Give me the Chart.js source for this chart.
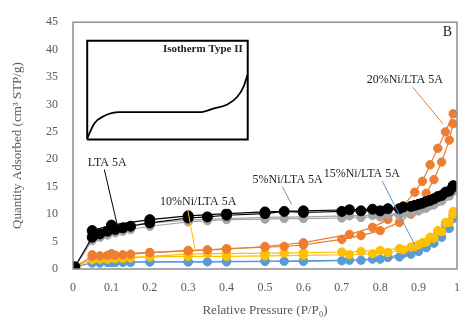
<!DOCTYPE html>
<html>
<head>
<meta charset="utf-8">
<script src="https://cdn.jsdelivr.net/npm/chart.js@4"></script>
<style>
html,body{margin:0;padding:0;background:#fff;}
#wrap{width:474px;height:323px;position:relative;}
</style>
</head>
<body>
<div id="wrap"><canvas id="c" width="474" height="323"></canvas></div>
<script>
// ---- data ----
const pressureAds = [0.005, 0.05, 0.07, 0.09, 0.11, 0.13, 0.15, 0.2, 0.3, 0.35, 0.4, 0.5, 0.55, 0.6, 0.7, 0.75, 0.8, 0.85, 0.88, 0.9, 0.92, 0.94, 0.96, 0.98, 0.99];
const pressureDes = [0.99, 0.97, 0.95, 0.93, 0.91, 0.89, 0.86, 0.82, 0.78, 0.72, 0.6, 0.5, 0.4, 0.3, 0.2, 0.1, 0.05];

const ltaAds  = [0.4, 5.8, 6.4, 6.9, 7.2, 7.5, 7.8, 8.4, 9.3, 9.5, 9.8, 10.1, 10.5, 10.3, 10.5, 10.6, 10.6, 11.0, 11.4, 11.8, 12.3, 12.8, 13.4, 14.2, 15.0];
const ltaDes  = [15.2, 14.0, 13.2, 12.5, 12.0, 11.6, 11.3, 11.0, 10.9, 10.8, 10.6, 10.4, 10.1, 9.7, 9.0, 8.0, 7.0];
const ni5Ads  = [0.4, 5.2, 5.8, 6.2, 6.6, 6.9, 7.2, 7.8, 8.6, 8.8, 9.0, 9.1, 9.2, 9.2, 9.3, 9.4, 9.5, 9.8, 10.2, 10.6, 11.1, 11.7, 12.4, 13.3, 14.2];
const ni5Des  = [14.4, 13.2, 12.3, 11.6, 11.0, 10.6, 10.2, 9.9, 9.8, 9.7, 9.5, 9.4, 9.2, 8.9, 8.4, 7.5, 6.5];
const ni10Ads = [0.4, 1.7, 1.8, 1.8, 1.9, 1.9, 2.0, 2.3, 2.7, 2.8, 2.8, 2.9, 2.9, 3.0, 3.1, 3.2, 3.4, 3.7, 4.0, 4.4, 4.9, 5.6, 6.8, 8.5, 10.0];
const ni10Des = [10.5, 8.5, 7.0, 5.8, 4.8, 4.1, 3.5, 3.0, 2.8, 2.6, 2.5, 2.4, 2.3, 2.3, 2.2, 2.1, 2.0];
const ni15Ads = [0.4, 1.1, 1.1, 1.2, 1.2, 1.2, 1.2, 1.3, 1.3, 1.3, 1.3, 1.4, 1.4, 1.4, 1.5, 1.6, 1.8, 2.2, 2.7, 3.2, 3.9, 4.7, 5.8, 7.4, 9.2];
const ni15Des = [9.8, 8.0, 6.6, 5.4, 4.4, 3.6, 2.8, 2.1, 1.8, 1.6, 1.5, 1.4, 1.4, 1.3, 1.3, 1.2, 1.2];
const ni20Ads = [0.4, 2.3, 2.4, 2.5, 2.5, 2.6, 2.7, 3.0, 3.4, 3.5, 3.7, 4.0, 4.1, 4.4, 5.4, 6.1, 7.0, 8.5, 10.0, 11.8, 13.8, 16.3, 19.5, 23.5, 26.5];
const ni20Des = [28.3, 25.0, 22.0, 19.0, 16.0, 14.0, 11.5, 9.0, 7.6, 6.3, 4.8, 4.1, 3.6, 3.3, 3.0, 2.8, 2.6];

const seriesNames = ["LTA 5A", "5%Ni/LTA 5A", "10%Ni/LTA 5A", "15%Ni/LTA 5A", "20%Ni/LTA 5A"];

// inset schematic (Type II isotherm), in the main chart's units
const insetCurveX = [0.037, 0.055, 0.081, 0.12, 0.225, 0.33, 0.368, 0.402, 0.428, 0.444, 0.454];
const insetCurveY = [23.8, 26.5, 27.9, 28.6, 28.6, 28.6, 29.3, 30.0, 31.4, 33.2, 35.3];
const insetBoxX = [0.037, 0.455, 0.455, 0.037, 0.037];
const insetBoxY = [23.6, 23.6, 41.6, 41.6, 23.6];

// ---- styling ----
const colors = {
  lta: '#000000', ni5: '#a5a5a5', ni10: '#ffc000', ni15: '#5b9bd5', ni20: '#ed7d31'
};
function pts(xs, ys){ return xs.map((x,i)=>({x:x, y:ys[i]})); }
function series(label, xs, ys, color, r){
  return {
    label: label, data: pts(xs, ys), showLine: true,
    borderColor: color, backgroundColor: color, borderWidth: 1.2,
    pointRadius: r, pointBorderColor: color, pointBackgroundColor: color,
    pointBorderWidth: 1, tension: 0
  };
}
const datasets = [
  {label:'insetBox', data: pts(insetBoxX, insetBoxY), showLine:true, borderColor:'#000', borderWidth:2, pointRadius:0, tension:0},
  {label:'insetCurve', data: pts(insetCurveX, insetCurveY), showLine:true, borderColor:'#000', borderWidth:1.8, pointRadius:0, tension:0.4, cubicInterpolationMode:'monotone'},
  series(seriesNames[0], pressureAds, ltaAds, colors.lta, 5),
  series(seriesNames[0]+' des', pressureDes, ltaDes, colors.lta, 5),
  series(seriesNames[1], pressureAds, ni5Ads, colors.ni5, 4.2),
  series(seriesNames[1]+' des', pressureDes, ni5Des, colors.ni5, 4.2),
  series(seriesNames[4], pressureAds, ni20Ads, colors.ni20, 4.2),
  series(seriesNames[4]+' des', pressureDes, ni20Des, colors.ni20, 4.2),
  series(seriesNames[2], pressureAds, ni10Ads, colors.ni10, 4.2),
  series(seriesNames[2]+' des', pressureDes, ni10Des, colors.ni10, 4.2),
  series(seriesNames[3], pressureAds, ni15Ads, colors.ni15, 4.2),
  series(seriesNames[3]+' des', pressureDes, ni15Des, colors.ni15, 4.2)
];

// annotations: [text, labelX, labelY, lineFromX, lineFromY, lineToX, lineToY, color]
const annotations = [
  [seriesNames[0], 0.089, 19.4, 0.081, 18.3, 0.115, 8.1, '#000000'],
  [seriesNames[2], 0.326, 12.2, 0.298, 11.1, 0.319, 3.2, '#ffc000'],
  [seriesNames[1], 0.559, 16.2, 0.543, 15.3, 0.569, 11.8, '#8c8c8c'],
  [seriesNames[3], 0.752, 17.3, 0.804, 16.2, 0.890, 4.4, '#5b9bd5'],
  [seriesNames[4], 0.864, 34.4, 0.883, 33.3, 0.963, 26.5, '#ed7d31']
];

const SERIF = '"Liberation Serif", "Times New Roman", serif';

const decor = {
  id: 'decor',
  beforeDraw(chart){
    const ctx = chart.ctx;
    ctx.save(); ctx.fillStyle = '#fff'; ctx.fillRect(0,0,chart.width,chart.height); ctx.restore();
  },
  afterDatasetsDraw(chart){
    const {ctx, chartArea: a, scales: {x, y}} = chart;
    ctx.save();
    // frame
    ctx.strokeStyle = '#8f8f8f'; ctx.lineWidth = 1.5;
    ctx.strokeRect(a.left, a.top, a.right - a.left, a.bottom - a.top);
    // leader lines
    annotations.forEach(an => {
      ctx.strokeStyle = an[7]; ctx.lineWidth = 1;
      ctx.beginPath();
      ctx.moveTo(x.getPixelForValue(an[3]), y.getPixelForValue(an[4]));
      ctx.lineTo(x.getPixelForValue(an[5]), y.getPixelForValue(an[6]));
      ctx.stroke();
    });
    // labels
    ctx.font = '12px ' + SERIF;
    ctx.textAlign = 'center'; ctx.textBaseline = 'middle';
    annotations.forEach(an => {
      const px = x.getPixelForValue(an[1]), py = y.getPixelForValue(an[2]);
      const w = ctx.measureText(an[0]).width;
      ctx.fillStyle = 'rgba(255,255,255,0.85)';
      ctx.fillRect(px - w/2 - 2, py - 7, w + 4, 14);
      ctx.fillStyle = '#222';
      ctx.fillText(an[0], px, py);
    });
    // inset title
    ctx.font = 'bold 11px ' + SERIF;
    ctx.textAlign = 'right';
    ctx.fillStyle = '#222';
    ctx.fillText('Isotherm Type II', x.getPixelForValue(0.442), y.getPixelForValue(40.1));
    // panel letter
    ctx.font = '14px ' + SERIF;
    ctx.textAlign = 'center';
    ctx.fillText('B', x.getPixelForValue(0.975), y.getPixelForValue(43.2));
    ctx.restore();
  }
};

new Chart(document.getElementById('c'), {
  type: 'scatter',
  data: { datasets: datasets },
  plugins: [decor],
  options: {
    responsive: false,
    animation: false,
    devicePixelRatio: 1,
    layout: { padding: { left: 0, right: 17, top: 15, bottom: 0 } },
    plugins: { legend: { display: false }, tooltip: { enabled: false } },
    scales: {
      x: {
        type: 'linear', min: 0, max: 1,
        grid: { display: false, drawTicks: false },
        border: { display: false },
        ticks: { stepSize: 0.1, padding: 12, color: '#595959', font: { family: SERIF, size: 12 },
          callback: v => String(Number(v.toFixed(1))) },
        title: { display: true, text: 'Relative Pressure (P/P\u2080)', color: '#595959',
          font: { family: SERIF, size: 13 }, padding: { top: 0, bottom: 5 } },
        afterFit: s => { s.height = 54; }
      },
      y: {
        type: 'linear', min: 0, max: 45,
        grid: { display: false, drawTicks: false },
        border: { display: false },
        ticks: { stepSize: 5, padding: 15, color: '#595959', font: { family: SERIF, size: 12 } },
        title: { display: true, text: 'Quantity Adsorbed (cm\u00B3 STP/g)', color: '#595959',
          font: { family: SERIF, size: 13 }, padding: { top: 10, bottom: 0 } },
        afterFit: s => { s.width = 73; }
      }
    }
  }
});
</script>
</body>
</html>
